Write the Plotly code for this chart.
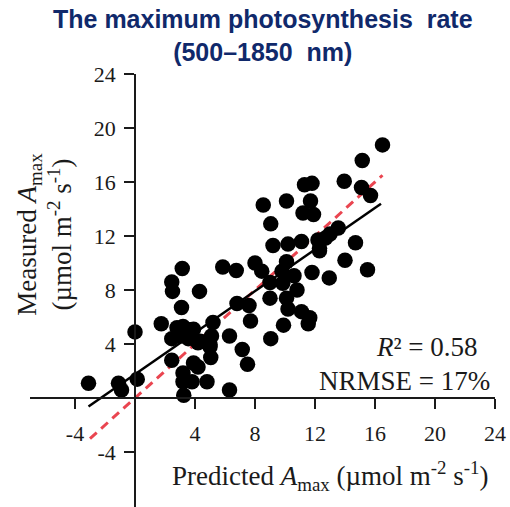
import plotly.graph_objects as go
import numpy as np

# Predicted vs measured maximum photosynthesis rate (µmol m-2 s-1)
predicted = [
    -3.1, -1.1, -0.9, 0.15, 0.0, 1.75, 2.45, 2.5, 3.15, 3.1,
    2.45, 4.3, 2.45, 2.8, 3.2, 3.9, 3.0, 3.55, 4.2, 3.2,
    3.2, 3.8, 3.25, 3.9, 4.2, 4.8, 5.0, 5.05, 5.1, 5.2,
    5.85, 6.75, 6.3, 6.3, 6.8, 7.15, 7.5, 7.6, 7.7, 8.0,
    8.45, 9.0, 9.0, 9.05, 9.85, 9.8, 10.1, 10.1, 9.9, 10.2,
    12.3, 14.0, 15.5, 11.8, 12.95, 10.6, 10.8, 11.1, 11.65, 11.55,
    8.55, 10.1, 9.05, 9.2, 10.2, 16.5, 15.15, 13.95, 15.1, 15.7,
    11.3, 11.8, 11.7, 11.2, 11.9, 13.55, 13.0, 12.7, 12.2, 12.3,
    11.1, 14.7, 3.65, 4.35, 5.0,
]
measured = [
    1.1, 1.1, 0.6, 1.4, 4.9, 5.5, 8.6, 7.9, 9.6, 6.7,
    2.8, 7.9, 4.4, 5.2, 5.3, 5.1, 4.6, 4.4, 4.1, 1.85,
    1.2, 1.2, 0.2, 2.6, 2.3, 1.2, 3.8, 3.0, 4.6, 5.6,
    9.7, 9.45, 4.6, 0.6, 7.0, 3.6, 2.5, 6.85, 5.7, 10.0,
    9.4, 8.55, 7.4, 4.4, 8.5, 9.4, 10.1, 7.4, 5.4, 6.6,
    10.9, 10.2, 9.5, 9.3, 8.9, 9.05, 8.0, 6.4, 5.95, 5.5,
    14.3, 14.6, 12.9, 11.3, 11.4, 18.75, 17.6, 16.05, 15.6, 15.0,
    15.8, 15.9, 14.6, 13.7, 13.6, 12.6, 12.15, 11.85, 11.7, 11.1,
    11.6, 11.5, 5.05, 4.2, 3.95,
]

# Linear fit and 1:1 reference line
fit_slope = 0.77
fit_intercept = 1.76
fit_x_range = [-3.1, 16.4]
one_to_one_range = [-3.0, 16.5]

r_squared = 0.58
nrmse_pct = 17

x_ticks = [-4, 4, 8, 12, 16, 20, 24]
y_ticks = [-4, 4, 8, 12, 16, 20, 24]
x_range = [-7, 24]
y_range = [-8.07, 24]

serif = "Liberation Serif, Times New Roman, serif"
ink = "#1a1a1a"

fig = go.Figure()

fig.add_trace(go.Scatter(
    x=one_to_one_range, y=one_to_one_range, mode="lines",
    line=dict(color="#ea4550", width=3, dash="9px,6px"),
    hoverinfo="skip", showlegend=False,
))

fig.add_trace(go.Scatter(
    x=predicted, y=measured, mode="markers",
    marker=dict(color="black", size=15.5, line=dict(width=0)),
    showlegend=False,
))

fx = np.array(fit_x_range)
fig.add_trace(go.Scatter(
    x=fx, y=fit_slope * fx + fit_intercept, mode="lines",
    line=dict(color="black", width=2.5),
    hoverinfo="skip", showlegend=False,
))

# axes cross at the origin
x_zero_pos = (0 - y_range[0]) / (y_range[1] - y_range[0])
y_zero_pos = (0 - x_range[0]) / (x_range[1] - x_range[0])

fig.update_layout(
    width=510, height=507,
    margin=dict(l=30, r=15, t=74, b=0),
    paper_bgcolor="white", plot_bgcolor="white",
    xaxis=dict(
        range=x_range, anchor="free", position=x_zero_pos,
        showgrid=False, zeroline=False,
        showline=True, linecolor=ink, linewidth=1.5,
        ticks="outside", ticklen=10, tickwidth=1.5, tickcolor=ink,
        tickvals=x_ticks, ticktext=[str(v) for v in x_ticks],
        tickfont=dict(family=serif, size=22, color=ink),
        ticklabelstandoff=6,
    ),
    yaxis=dict(
        range=y_range, anchor="free", position=y_zero_pos,
        showgrid=False, zeroline=False,
        showline=True, linecolor=ink, linewidth=1.5,
        ticks="outside", ticklen=10, tickwidth=1.5, tickcolor=ink,
        tickvals=y_ticks, ticktext=[str(v) for v in y_ticks],
        tickfont=dict(family=serif, size=22, color=ink),
        ticklabelstandoff=4,
    ),
)

fig.add_annotation(
    x=0.5, y=1.0878, xref="paper", yref="paper", showarrow=False,
    text="<b>The maximum photosynthesis\u00a0 rate<br>(500–1850\u00a0 nm)</b>",
    font=dict(family="Liberation Sans, Arial, sans-serif", size=25, color="#10296b"),
    xanchor="center", yanchor="middle",
)
fig.add_annotation(
    x=13.0, y=-5.8, xref="x", yref="y", showarrow=False,
    text="Predicted <i>A</i><sub>max</sub> (µmol m<sup>-2</sup> s<sup>-1</sup>)",
    font=dict(family=serif, size=27, color=ink),
    xanchor="center", yanchor="middle",
)
fig.add_annotation(
    x=-6.0, y=12.1, xref="x", yref="y", showarrow=False, textangle=-90,
    text="Measured <i>A</i><sub>max</sub><br>(µmol m<sup>-2</sup> s<sup>-1</sup>)",
    font=dict(family=serif, size=27, color=ink),
    xanchor="center", yanchor="middle",
)
fig.add_annotation(
    x=23.0, y=3.8, xref="x", yref="y", showarrow=False,
    text=f"<i>R</i>² = {r_squared:.2f}",
    font=dict(family=serif, size=27, color=ink),
    xanchor="right", yanchor="middle",
)
fig.add_annotation(
    x=23.8, y=1.26, xref="x", yref="y", showarrow=False,
    text=f"NRMSE = {nrmse_pct}%",
    font=dict(family=serif, size=27, color=ink),
    xanchor="right", yanchor="middle",
)

fig.write_html("out.html")
